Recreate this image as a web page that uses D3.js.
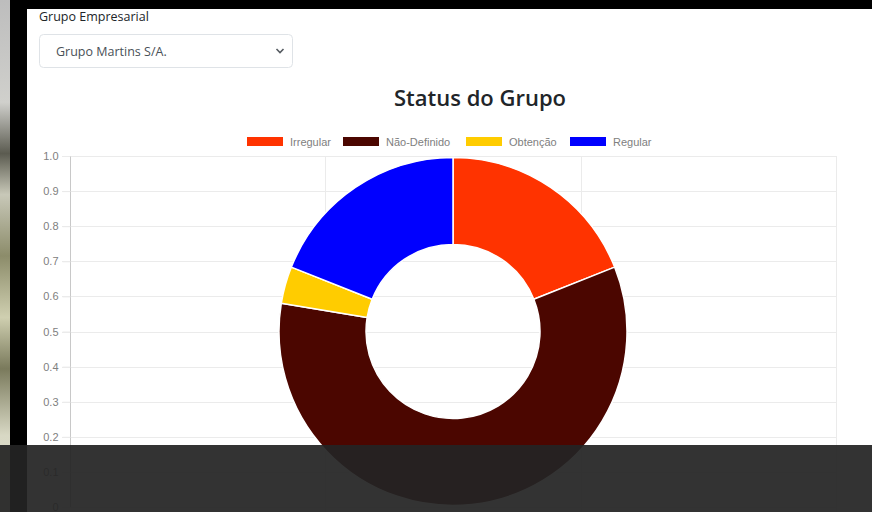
<!DOCTYPE html>
<html>
<head>
<meta charset="utf-8">
<script src="https://cdn.jsdelivr.net/npm/d3@7"></script>
<style>
  html, body { margin: 0; padding: 0; background: #fff; }
  svg { display: block; }
</style>
</head>
<body>
<div id="wrapper"></div>
<script>
// data
const categories = ['Irregular', 'Não-Definido', 'Obtenção', 'Regular']
const counts = [11, 34, 2, 11]
const colors = ['#ff3300', '#4b0600', '#ffcc00', '#0000ff']
const yTicks = [0, 0.1, 0.2, 0.3, 0.4, 0.5, 0.6, 0.7, 0.8, 0.9, 1.0]

const width = 872
const height = 512
let dimensions = {
    width: width,
    height: height,
    margin: { top: 156, right: 36, bottom: 5, left: 70 },
}
dimensions.boundedWidth = dimensions.width - dimensions.margin.left - dimensions.margin.right
dimensions.boundedHeight = dimensions.height - dimensions.margin.top - dimensions.margin.bottom

const svg = d3.select('#wrapper')
    .append('svg')
    .attr('width', width)
    .attr('height', height)

// page background / frame
const defs = svg.append('defs')
const grad = defs.append('linearGradient').attr('id', 'bgstrip')
    .attr('x1', 0).attr('y1', 0).attr('x2', 0).attr('y2', 1)
const stops = [[0, '#bdbdbd'], [0.2, '#d0d0cc'], [0.3, '#5b5b50'], [0.38, '#c8c8b8'], [0.5, '#8c8c6a'],
    [0.62, '#cfcfb0'], [0.72, '#7a7a5c'], [0.85, '#d8d8c4'], [1, '#e0e0d0']]
stops.forEach(s => grad.append('stop').attr('offset', s[0]).attr('stop-color', s[1]))

svg.append('rect').attr('x', 0).attr('y', 0).attr('width', width).attr('height', height).attr('fill', '#fff')
svg.append('rect').attr('x', 0).attr('y', 0).attr('width', 10).attr('height', height).attr('fill', 'url(#bgstrip)')
svg.append('rect').attr('x', 10).attr('y', 0).attr('width', 17).attr('height', height).attr('fill', '#000')
svg.append('rect').attr('x', 10).attr('y', 0).attr('width', width - 10).attr('height', 9).attr('fill', '#000')

// form controls
const uiFont = "'Open Sans', 'Noto Sans', sans-serif"
svg.append('text')
    .attr('x', 39).attr('y', 21)
    .attr('font-family', uiFont).attr('font-size', 12.5)
    .attr('fill', '#212529')
    .text('Grupo Empresarial')

svg.append('rect')
    .attr('x', 39.5).attr('y', 34.5).attr('width', 253).attr('height', 33)
    .attr('rx', 4).attr('fill', '#fff').attr('stroke', '#dfe3e7')
svg.append('text')
    .attr('x', 56).attr('y', 56)
    .attr('font-family', uiFont).attr('font-size', 12.5)
    .attr('fill', '#495057')
    .text('Grupo Martins S/A.')
svg.append('path')
    .attr('d', 'M276.5,49 L280,52.5 L283.5,49')
    .attr('fill', 'none').attr('stroke', '#555b61').attr('stroke-width', 1.6)

// title
svg.append('text')
    .attr('x', 480).attr('y', 106)
    .attr('text-anchor', 'middle')
    .attr('font-family', uiFont).attr('font-size', 22).attr('font-weight', 600)
    .attr('fill', '#212529')
    .text('Status do Grupo')

// scales
const yScale = d3.scaleLinear()
    .domain([0, 1])
    .range([dimensions.height - dimensions.margin.bottom, dimensions.margin.top])
const xScale = d3.scalePoint()
    .domain(categories)
    .range([dimensions.margin.left, dimensions.width - dimensions.margin.right])

const chartFont = "'Liberation Sans', Arial, sans-serif"

// grid
const grid = svg.append('g')
grid.selectAll('.hgrid').data(yTicks).join('line')
    .attr('x1', dimensions.margin.left - 8)
    .attr('x2', xScale.range()[1])
    .attr('y1', d => Math.round(yScale(d)) + 0.5)
    .attr('y2', d => Math.round(yScale(d)) + 0.5)
    .attr('stroke', '#ebebeb')
grid.selectAll('.vgrid').data(categories.slice(1)).join('line')
    .attr('x1', d => Math.round(xScale(d)) + 0.5)
    .attr('x2', d => Math.round(xScale(d)) + 0.5)
    .attr('y1', yScale(1))
    .attr('y2', yScale(0) + 8)
    .attr('stroke', '#ebebeb')

// y axis
const yAxis = svg.append('g')
    .attr('transform', `translate(${dimensions.margin.left + 0.5},0)`)
    .call(d3.axisLeft(yScale).tickValues(yTicks).tickSize(8).tickPadding(4)
        .tickFormat(d => d === 0 ? '0' : d3.format('.1f')(d)))
yAxis.select('.domain').attr('stroke', '#c8c8c8').attr('d', `M0,${yScale(1)}V${yScale(0)}`)
yAxis.selectAll('.tick line').attr('stroke', '#ebebeb')
yAxis.selectAll('.tick text')
    .attr('font-family', chartFont).attr('font-size', 11)
    .attr('fill', '#808080')

// doughnut
const cx = (xScale.range()[0] + xScale.range()[1]) / 2
const cy = (yScale(0) + yScale(1)) / 2
const outerR = 174
const innerR = 87
const pie = d3.pie().sort(null).value(d => d)
const arc = d3.arc().innerRadius(innerR).outerRadius(outerR)
svg.append('g')
    .attr('transform', `translate(${cx},${cy})`)
    .selectAll('path')
    .data(pie(counts))
    .join('path')
    .attr('d', arc)
    .attr('fill', (d, i) => colors[i])
    .attr('stroke', '#fff')
    .attr('stroke-width', 1.5)
    .attr('stroke-linejoin', 'round')

// legend
const legendX = [247, 343, 466, 570]
const legend = svg.append('g')
    .selectAll('g')
    .data(categories)
    .join('g')
    .attr('transform', (d, i) => `translate(${legendX[i]},137)`)
legend.append('rect')
    .attr('width', 36).attr('height', 9)
    .attr('fill', (d, i) => colors[i])
legend.append('text')
    .attr('x', 43).attr('y', 8.5)
    .attr('font-family', chartFont).attr('font-size', 11)
    .attr('fill', '#808080')
    .text(d => d)

// dark bar at the bottom
svg.append('rect')
    .attr('x', 0).attr('y', 445).attr('width', width).attr('height', height - 445)
    .attr('fill', 'rgba(36,36,36,0.93)')
</script>
</body>
</html>
